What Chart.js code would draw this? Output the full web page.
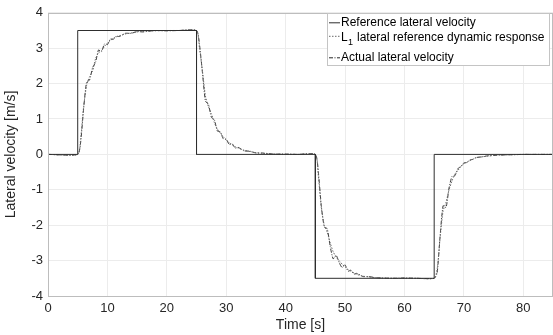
<!DOCTYPE html>
<html>
<head>
<meta charset="utf-8">
<script src="https://cdn.jsdelivr.net/npm/chart.js@4/dist/chart.umd.min.js"></script>
<style>
  html, body { margin: 0; padding: 0; background: #fff; }
  #wrap { width: 553px; height: 335px; position: relative; }
</style>
</head>
<body>
<div id="wrap"><canvas id="velChart"></canvas></div>
<script>
/* ── Data ── */
const refTime = [0, 5, 5, 25, 25, 45, 45, 65, 65, 85];
const refVel  = [0, 0, 3.5, 3.5, 0, 0, -3.5, -3.5, 0, 0];

const time = [0,
  5, 5.5, 6, 6.5, 7, 7.5, 8, 8.5, 9, 9.5, 10, 10.5, 11, 11.5, 12, 13, 14, 15, 16, 18, 20, 22,
  25, 25.5, 26, 26.5, 27, 27.5, 28, 28.5, 29, 29.5, 30, 30.5, 31, 31.5, 32, 33, 34, 35, 36, 38, 40, 42,
  45, 45.5, 46, 46.5, 47, 47.5, 48, 48.5, 49, 49.5, 50, 50.5, 51, 51.5, 52, 53, 54, 55, 56, 58, 60, 62,
  65, 65.5, 66, 66.5, 67, 67.5, 68, 68.5, 69, 69.5, 70, 70.5, 71, 71.5, 72, 73, 74, 75, 76, 78, 80, 82,
  85];

const l1Response = [0,
  0, 0.45, 1.35, 1.95, 2.2, 2.35, 2.7, 2.87, 2.93, 3.05, 3.15, 3.22, 3.28, 3.32, 3.35, 3.4, 3.43, 3.46, 3.47, 3.49, 3.5, 3.5,
  3.5, 3.0, 2.35, 1.65, 1.35, 1.15, 0.9, 0.72, 0.6, 0.5, 0.4, 0.33, 0.27, 0.22, 0.18, 0.12, 0.08, 0.05, 0.03, 0.01, 0.005, 0,
  0, -0.6, -1.5, -2.0, -2.2, -2.5, -2.75, -2.9, -3.0, -3.1, -3.18, -3.25, -3.3, -3.35, -3.39, -3.44, -3.46, -3.48, -3.49, -3.5, -3.5, -3.5,
  -3.5, -3.25, -2.35, -1.6, -1.35, -1.0, -0.75, -0.55, -0.45, -0.35, -0.26, -0.22, -0.18, -0.14, -0.1, -0.07, -0.05, -0.03, -0.02, -0.01, 0, 0,
  0];

const actualVel = [0,
  0, 0.35, 1.3, 2.05, 2.1, 2.45, 2.6, 2.95, 2.9, 3.12, 3.1, 3.26, 3.25, 3.34, 3.33, 3.42, 3.42, 3.47, 3.46, 3.5, 3.49, 3.5,
  3.5, 3.1, 2.3, 1.5, 1.42, 1.05, 0.98, 0.66, 0.64, 0.44, 0.43, 0.28, 0.3, 0.18, 0.2, 0.1, 0.09, 0.04, 0.04, 0.01, 0.01, 0,
  0, -0.5, -1.45, -2.05, -2.1, -2.6, -2.95, -2.85, -3.05, -3.2, -3.12, -3.3, -3.27, -3.38, -3.36, -3.45, -3.45, -3.48, -3.49, -3.5, -3.49, -3.5,
  -3.5, -3.35, -2.3, -1.45, -1.5, -0.95, -0.62, -0.6, -0.4, -0.34, -0.24, -0.23, -0.16, -0.14, -0.09, -0.07, -0.04, -0.03, -0.02, -0.01, 0, 0,
  0];

const xTicks = [0, 10, 20, 30, 40, 50, 60, 70, 80];
const yTicks = [-4, -3, -2, -1, 0, 1, 2, 3, 4];

const legendLabels = ["Reference lateral velocity", "lateral reference dynamic response", "Actual lateral velocity"];

const FONT = '"Liberation Sans", Arial, Helvetica, sans-serif';

const toPoints = (xs, ys) => xs.map((x, i) => ({ x, y: ys[i] }));

/* ── Box + legend drawn on top ── */
const boxPlugin = {
  id: "boxAndLegend",
  afterDatasetsDraw(chart) {
    const { ctx, chartArea: ca } = chart;
    ctx.save();
    // axes box
    ctx.strokeStyle = "#bdbdbd";
    ctx.lineWidth = 1;
    ctx.strokeRect(Math.round(ca.left) + 0.5, Math.round(ca.top) + 0.5,
                   Math.round(ca.right - ca.left) - 1, Math.round(ca.bottom - ca.top));

    // legend box
    const lx = ca.right - 226, ly = ca.top + 0.5, lw = 222, lh = 52;
    ctx.fillStyle = "#fff";
    ctx.fillRect(lx, ly, lw, lh);
    ctx.strokeStyle = "#c4c4c4";
    ctx.strokeRect(Math.round(lx) + 0.5, Math.round(ly) + 0.5, lw, lh);

    const rows = [ly + 9.5, ly + 24.5, ly + 44.5];
    const ds = chart.data.datasets;
    ctx.font = "12px " + FONT;
    ctx.textBaseline = "middle";
    ctx.fillStyle = "#000";
    rows.forEach((ry, i) => {
      ctx.beginPath();
      ctx.strokeStyle = ds[i].borderColor;
      ctx.lineWidth = 1;
      ctx.setLineDash(ds[i].borderDash || []);
      ctx.moveTo(lx + 2, ry - (i === 1 ? 1.5 : 0));
      ctx.lineTo(lx + 13, ry - (i === 1 ? 1.5 : 0));
      ctx.stroke();
      ctx.setLineDash([]);
      const tx = lx + 14;
      if (i === 1) {
        ctx.font = "12px " + FONT;
        ctx.fillText("L", tx, ry);
        ctx.font = "9px " + FONT;
        ctx.fillText("1", tx + 7, ry + 5);
        ctx.font = "12px " + FONT;
        ctx.fillText(legendLabels[i], tx + 16, ry);
      } else {
        ctx.fillText(legendLabels[i], tx, ry);
      }
    });
    ctx.restore();
  }
};

new Chart(document.getElementById("velChart"), {
  type: "line",
  data: {
    datasets: [
      {
        label: legendLabels[0],
        data: toPoints(refTime, refVel),
        borderColor: "#2e2e2e",
        borderWidth: 1,
        pointRadius: 0,
        tension: 0,
      },
      {
        label: "L1 " + legendLabels[1],
        data: toPoints(time, l1Response),
        borderColor: "#6a6a6a",
        borderWidth: 1,
        borderDash: [1.5, 1.5],
        pointRadius: 0,
        tension: 0.2,
      },
      {
        label: legendLabels[2],
        data: toPoints(time, actualVel),
        borderColor: "#262626",
        borderWidth: 0.9,
        borderDash: [4, 1.5, 1, 1.5],
        pointRadius: 0,
        tension: 0.2,
      },
    ],
  },
  options: {
    responsive: true,
    maintainAspectRatio: false,
    animation: false,
    layout: { padding: { top: 12, right: 0, left: 0, bottom: 0 } },
    plugins: { legend: { display: false }, tooltip: { enabled: false } },
    scales: {
      x: {
        type: "linear",
        min: 0,
        max: 85,
        afterBuildTicks: (s) => { s.ticks = xTicks.map((v) => ({ value: v })); },
        afterFit: (s) => { s.height = 39; },
        grid: { color: "#ececec", drawTicks: false },
        border: { display: false },
        ticks: { color: "#262626", font: { family: FONT, size: 13 }, padding: 5, maxRotation: 0 },
        title: { display: true, text: "Time [s]", color: "#262626", font: { family: FONT, size: 14 }, padding: { top: 0, bottom: 1 } },
      },
      y: {
        min: -4,
        max: 4,
        afterBuildTicks: (s) => { s.ticks = yTicks.map((v) => ({ value: v })); },
        afterFit: (s) => { s.width = 48; },
        grid: { color: "#ececec", drawTicks: false },
        border: { display: false },
        ticks: { color: "#262626", font: { family: FONT, size: 13 }, padding: 5 },
        title: { display: true, text: "Lateral velocity [m/s]", color: "#262626", font: { family: FONT, size: 14 }, padding: { top: 3, bottom: 0 } },
      },
    },
  },
  plugins: [boxPlugin],
});
</script>
</body>
</html>
